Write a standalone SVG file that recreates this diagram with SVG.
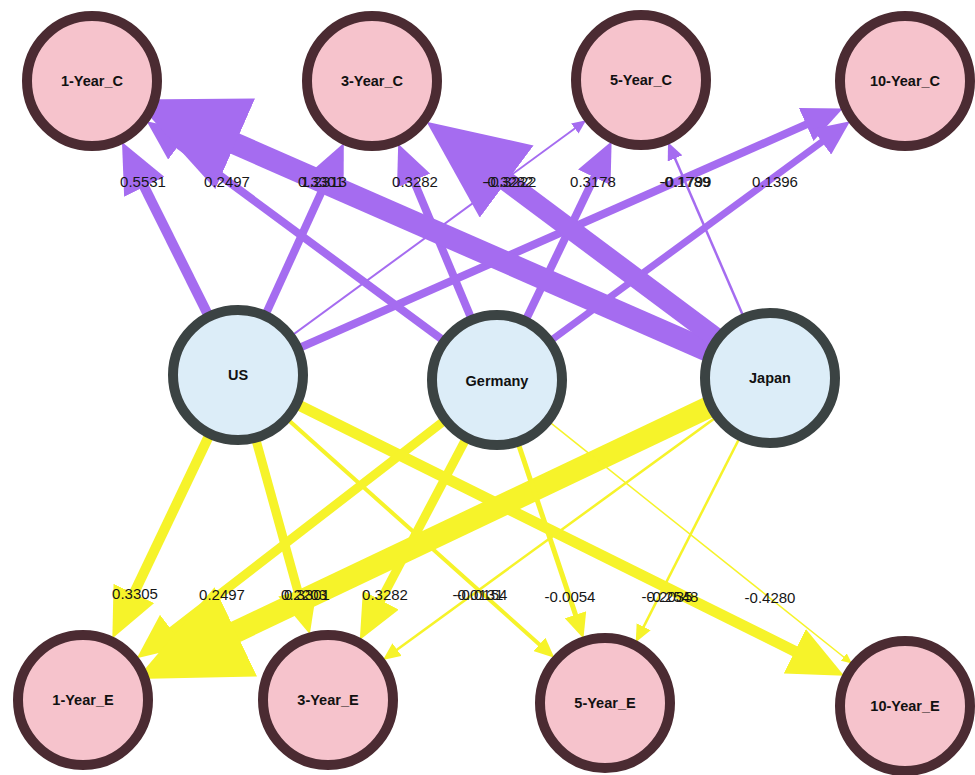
<svg xmlns="http://www.w3.org/2000/svg" width="975" height="775" viewBox="0 0 975 775">
<style>
.p{stroke:#a56cf0;fill:none;stroke-linecap:butt}
.y{stroke:#f6f32a;fill:none;stroke-linecap:butt}
.tgt circle{fill:#f6c3cc;stroke:#4b2b32;stroke-width:10}
.src circle{fill:#dcedf8;stroke:#3b4343;stroke-width:10}
.nl{font-family:"Liberation Sans",Arial,sans-serif;font-size:14.5px;font-weight:bold;fill:#111;text-anchor:middle}
.el{font-family:"Liberation Sans",Arial,sans-serif;font-size:15px;fill:#161616;text-anchor:middle}
</style>
<defs>
<marker id="ap" viewBox="0 0 10 9" refX="3" refY="4.5" markerWidth="5" markerHeight="4.5" orient="auto" markerUnits="strokeWidth"><path d="M0,0 L10,4.5 L0,9 z" fill="#a56cf0"/></marker>
<marker id="apt" viewBox="0 0 10 9" refX="3" refY="4.5" markerWidth="7" markerHeight="6.3" orient="auto" markerUnits="strokeWidth"><path d="M0,0 L10,4.5 L0,9 z" fill="#a56cf0"/></marker>
<marker id="ay" viewBox="0 0 10 9" refX="3" refY="4.5" markerWidth="5" markerHeight="4.5" orient="auto" markerUnits="strokeWidth"><path d="M0,0 L10,4.5 L0,9 z" fill="#f6f32a"/></marker>
<marker id="ayt" viewBox="0 0 10 9" refX="3" refY="4.5" markerWidth="7" markerHeight="6.3" orient="auto" markerUnits="strokeWidth"><path d="M0,0 L10,4.5 L0,9 z" fill="#f6f32a"/></marker>
</defs>
<rect width="975" height="775" fill="#ffffff"/>
<g id="connectors">
<line class="p" x1="238" y1="375" x2="137.6" y2="173.4" stroke-width="10" marker-end="url(#ap)"/>
<line class="p" x1="238" y1="375" x2="332.2" y2="168.4" stroke-width="8" marker-end="url(#ap)"/>
<line class="p" x1="238" y1="375" x2="578.2" y2="126" stroke-width="2" marker-end="url(#apt)"/>
<line class="p" x1="238" y1="375" x2="817.2" y2="119.7" stroke-width="8" marker-end="url(#ap)"/>
<line class="p" x1="497" y1="380" x2="169.2" y2="138" stroke-width="8" marker-end="url(#ap)"/>
<line class="p" x1="497" y1="380" x2="409" y2="169.5" stroke-width="8" marker-end="url(#ap)"/>
<line class="p" x1="497" y1="380" x2="599.5" y2="166.5" stroke-width="8" marker-end="url(#ap)"/>
<line class="p" x1="497" y1="380" x2="830.3" y2="135.7" stroke-width="7" marker-end="url(#ap)"/>
<line class="p" x1="770" y1="378" x2="205" y2="130.5" stroke-width="22" marker-end="url(#ap)"/>
<line class="p" x1="770" y1="378" x2="482.6" y2="163.6" stroke-width="20" marker-end="url(#ap)"/>
<line class="p" x1="770" y1="378" x2="672.9" y2="153.6" stroke-width="2.5" marker-end="url(#apt)"/>
<line class="y" x1="238" y1="375" x2="127.4" y2="607" stroke-width="10" marker-end="url(#ay)"/>
<line class="y" x1="238" y1="375" x2="301.4" y2="604" stroke-width="9" marker-end="url(#ay)"/>
<line class="y" x1="238" y1="375" x2="543.9" y2="648.4" stroke-width="4" marker-end="url(#ay)"/>
<line class="y" x1="238" y1="375" x2="809.6" y2="658.6" stroke-width="11" marker-end="url(#ay)"/>
<line class="y" x1="497" y1="380" x2="161.7" y2="639.1" stroke-width="9" marker-end="url(#ay)"/>
<line class="y" x1="770" y1="378" x2="206" y2="646" stroke-width="22" marker-end="url(#ay)"/>
<line class="y" x1="497" y1="380" x2="374.5" y2="612.1" stroke-width="9" marker-end="url(#ay)"/>
<line class="y" x1="770" y1="378" x2="392.8" y2="652.7" stroke-width="2.5" marker-end="url(#ayt)"/>
<line class="y" x1="497" y1="380" x2="577.9" y2="621.9" stroke-width="5" marker-end="url(#ay)"/>
<line class="y" x1="497" y1="380" x2="846.2" y2="659" stroke-width="1.5" marker-end="url(#ayt)"/>
<line class="y" x1="770" y1="378" x2="641.3" y2="631.4" stroke-width="2.5" marker-end="url(#ayt)"/>
</g>
<g id="edge-labels">
<text class="el" x="143" y="187">0.5531</text>
<text class="el" x="227" y="187">0.2497</text>
<text class="el" x="324" y="187">1.2313</text>
<text class="el" x="321" y="187">0.3301</text>
<text class="el" x="415" y="187">0.3282</text>
<text class="el" x="508" y="187">-0.3282</text>
<text class="el" x="511" y="187">-0.3222</text>
<text class="el" x="593" y="187">0.3178</text>
<text class="el" x="685" y="187">-0.1789</text>
<text class="el" x="686" y="187">-0.1799</text>
<text class="el" x="775" y="187">0.1396</text>
<text class="el" x="135" y="599">0.3305</text>
<text class="el" x="222" y="600">0.2497</text>
<text class="el" x="304" y="600">0.2203</text>
<text class="el" x="307" y="600">0.3301</text>
<text class="el" x="385" y="600">0.3282</text>
<text class="el" x="478" y="600">-0.0131</text>
<text class="el" x="482" y="600">-0.0154</text>
<text class="el" x="570" y="602">-0.0054</text>
<text class="el" x="667" y="602">-0.2035</text>
<text class="el" x="673" y="602">-0.2548</text>
<text class="el" x="770" y="603">-0.4280</text>
</g>
<g id="n-1-Year_C" class="tgt"><circle cx="92" cy="81" r="65"/><text class="nl" x="92" y="86">1-Year_C</text></g>
<g id="n-3-Year_C" class="tgt"><circle cx="372" cy="81" r="65"/><text class="nl" x="372" y="86">3-Year_C</text></g>
<g id="n-5-Year_C" class="tgt"><circle cx="641" cy="80" r="65"/><text class="nl" x="641" y="85">5-Year_C</text></g>
<g id="n-10-Year_C" class="tgt"><circle cx="905" cy="81" r="65"/><text class="nl" x="905" y="86">10-Year_C</text></g>
<g id="n-US" class="src"><circle cx="238" cy="375" r="65"/><text class="nl" x="238" y="380">US</text></g>
<g id="n-Germany" class="src"><circle cx="497" cy="380" r="65"/><text class="nl" x="497" y="386">Germany</text></g>
<g id="n-Japan" class="src"><circle cx="770" cy="378" r="65"/><text class="nl" x="770" y="383">Japan</text></g>
<g id="n-1-Year_E" class="tgt"><circle cx="83" cy="700" r="65"/><text class="nl" x="83" y="705">1-Year_E</text></g>
<g id="n-3-Year_E" class="tgt"><circle cx="328" cy="700" r="65"/><text class="nl" x="328" y="705">3-Year_E</text></g>
<g id="n-5-Year_E" class="tgt"><circle cx="605" cy="703" r="65"/><text class="nl" x="605" y="708">5-Year_E</text></g>
<g id="n-10-Year_E" class="tgt"><circle cx="905" cy="706" r="65"/><text class="nl" x="905" y="711">10-Year_E</text></g>
</svg>
